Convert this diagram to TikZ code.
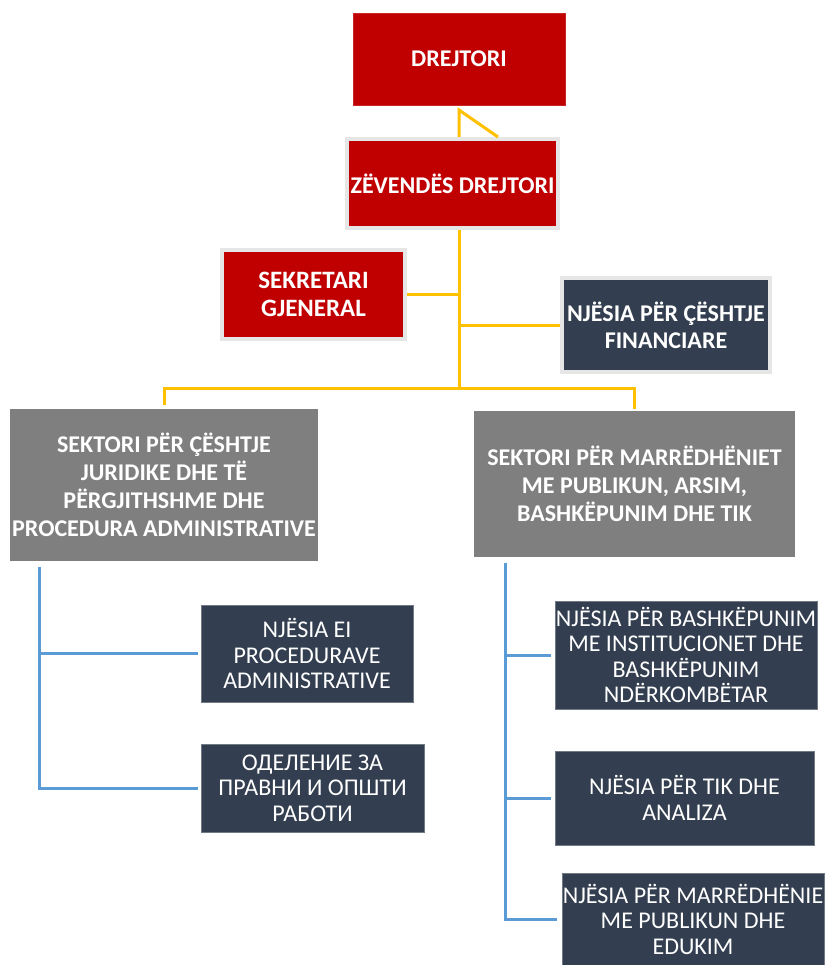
\documentclass[tikz,border=0pt]{standalone}
\usepackage{fontspec}
\setmainfont{Carlito}
\usetikzlibrary{calc}
\definecolor{redbox}{HTML}{C00000}
\definecolor{darkbox}{HTML}{333F50}
\definecolor{graybox}{HTML}{7F7F7F}
\definecolor{framegray}{HTML}{E7E6E6}
\definecolor{ylw}{HTML}{FFC000}
\definecolor{blu}{HTML}{5B9BD5}
\tikzset{
  box/.style={rectangle, inner sep=0pt, align=center, text=white},
  redb/.style={box, fill=redbox, font=\bfseries\fontsize{24}{27}\selectfont},
  framed/.style={draw=framegray, line width=4pt},
  secb/.style={box, fill=graybox, font=\bfseries\fontsize{24}{28}\selectfont},
  unitb/.style={box, fill=darkbox, draw=darkbox!70!white, line width=0.6pt, font=\fontsize{24}{25.5}\selectfont},
  ylink/.style={draw=ylw, line width=3pt},
  blink/.style={draw=blu, line width=3pt},
}
\begin{document}
\begin{tikzpicture}[x=1pt,y=-1pt]
\useasboundingbox (0,0) rectangle (824,965);
\fill[white] (0,0) rectangle (824,965);
% nodes
\node[redb, draw=redbox!85!white, line width=0.6pt, minimum width=212pt, minimum height=92pt] (dir) at (459,59) {DREJTORI};
\node[redb, framed, minimum width=211pt, minimum height=89pt] (zev) at (452.5,183.5) {ZËVENDËS DREJTORI};
\node[redb, framed, font=\bfseries\fontsize{25}{28}\selectfont, minimum width=183pt, minimum height=89pt] (sek) at (313.5,294.5) {SEKRETARI\\GJENERAL};
\node[unitb, framed, font=\bfseries\fontsize{24}{27}\selectfont, minimum width=208pt, minimum height=94pt] (fin) at (666,325) {NJËSIA PËR ÇËSHTJE\\FINANCIARE};
\node[secb, minimum width=308pt, minimum height=152pt] (secl) at (164,485) {SEKTORI PËR ÇËSHTJE\\JURIDIKE DHE TË\\PËRGJITHSHME DHE\\PROCEDURA ADMINISTRATIVE};
\node[secb, minimum width=321pt, minimum height=146pt] (secr) at (634.5,484) {SEKTORI PËR MARRËDHËNIET\\ME PUBLIKUN, ARSIM,\\BASHKËPUNIM DHE TIK};
\node[unitb, minimum width=212pt, minimum height=97pt] (u1) at (307,653.5) {NJËSIA EI\\PROCEDURAVE\\ADMINISTRATIVE};
\node[unitb, minimum width=223pt, minimum height=88pt] (u2) at (312.5,788) {ОДЕЛЕНИЕ ЗА\\ПРАВНИ И ОПШТИ\\РАБОТИ};
\node[unitb, minimum width=262pt, minimum height=108pt] (u3) at (686,655) {NJËSIA PËR BASHKËPUNIM\\ME INSTITUCIONET DHE\\BASHKËPUNIM\\NDËRKOMBËTAR};
\node[unitb, minimum width=259pt, minimum height=94pt] (u4) at (684.5,798) {NJËSIA PËR TIK DHE\\ANALIZA};
\node[unitb, minimum width=262pt, minimum height=92pt] (u5) at (693,919) {NJËSIA PËR MARRËDHËNIE\\ME PUBLIKUN DHE\\EDUKIM};
% yellow connectors
\coordinate (trunk) at (459,388);
\coordinate (dtop) at (459,110);
\coordinate (dslant) at (498,137);
\draw[ylink] (dtop |- zev.north) -- (dtop) -- (dslant);
\draw[ylink] (trunk |- zev.south) -- (trunk);
\draw[ylink] (sek.east) -- (sek.east -| trunk);
\draw[ylink] (fin.west) -- (fin.west -| trunk);
\draw[ylink] ([yshift=4pt]secl.north) |- (trunk) -| ([yshift=2pt]secr.north);
% blue connectors
\coordinate (lb) at (39,567);
\coordinate (rb) at (505,563);
\draw[blink] (lb) |- ([xshift=-3pt]u1.west);
\draw[blink] (lb) |- ([xshift=-3pt]u2.west);
\draw[blink] (rb) |- ([xshift=-4pt]u3.west);
\draw[blink] (rb) |- ([xshift=-4pt]u4.west);
\draw[blink] (rb) |- ([xshift=-5pt]u5.west);
\end{tikzpicture}
\end{document}
